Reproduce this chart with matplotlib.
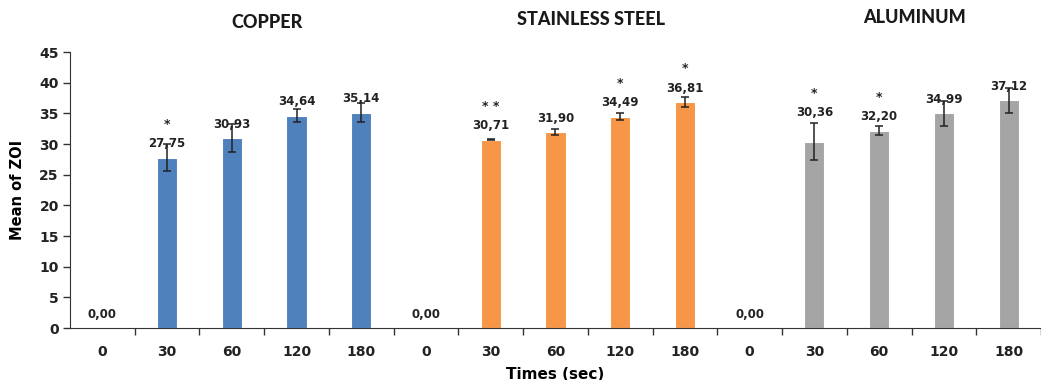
import matplotlib.pyplot as plt
import numpy as np

times = ["0", "30", "60", "120", "180"]
metals = ["COPPER", "STAINLESS STEEL", "ALUMINUM"]
colors = ["#4F81BD", "#F79646", "#A5A5A5"]

copper = [0.00, 27.75, 30.93, 34.64, 35.14]
copper_err = [0, 2.2, 2.3, 1.1, 1.5]
steel = [0.00, 30.71, 31.90, 34.49, 36.81]
steel_err = [0, 0.08, 0.5, 0.6, 0.8]
aluminum = [0.00, 30.36, 32.20, 34.99, 37.12]
aluminum_err = [0, 3.0, 0.8, 2.0, 2.0]

copper_sig = ["", "*", "", "", ""]
steel_sig = ["", "* *", "", "*", "*"]
aluminum_sig = ["", "*", "*", "", ""]

groups = [(copper, copper_err, copper_sig),
          (steel, steel_err, steel_sig),
          (aluminum, aluminum_err, aluminum_sig)]

# label pushed up so it clears the long error bar
lifted = {(2, 1): 11}

fig = plt.figure(figsize=(10.41, 3.8), dpi=100)
ax = fig.add_axes([0.0672, 0.1368, 0.9328, 0.7262])

n = len(times)
for g, (vals, errs, sig) in enumerate(groups):
    x = np.arange(n) + g * n
    ax.bar(x, vals, width=0.31, color=colors[g], edgecolor="#ffffff",
           linewidth=0.8, zorder=2)
    ax.errorbar(x[1:], vals[1:], yerr=errs[1:], fmt="none", ecolor="#222222",
                elinewidth=1.1, capsize=3, capthick=1.1, zorder=3)
    for i, (xi, v, s) in enumerate(zip(x, vals, sig)):
        dy = 10 + lifted.get((g, i), 0)
        ax.annotate("{:.2f}".format(v).replace(".", ","), (xi, v),
                    xytext=(0, dy), textcoords="offset points",
                    ha="center", va="center", fontsize=8.5,
                    fontweight="bold", color="#222222", zorder=4)
        if s:
            ax.annotate(s, (xi, v), xytext=(0, dy + 14),
                        textcoords="offset points", ha="center", va="center",
                        fontsize=9, fontweight="bold", color="#222222")
    ax.text(g * n + 2.55, 49.9 + 0.4 * g, metals[g], ha="center", va="center",
            fontsize=13, fontweight="black", color="#1a1a1a",
            family="Lato")

ax.set_xlim(-0.5, 14.46)
ax.set_ylim(0, 45)
ax.set_yticks(np.arange(0, 46, 5))
ax.set_xticks(np.arange(3 * n))
ax.set_xticklabels(times * 3, fontsize=10, fontweight="bold", color="#222222")
ax.set_xticks(np.arange(3 * n) + 0.5, minor=True)
ax.tick_params(axis="x", which="major", length=0, pad=12)
ax.tick_params(axis="x", which="minor", length=5, width=1, direction="out",
               color="#333333")
ax.tick_params(axis="y", length=5, width=1, direction="out", color="#333333",
               labelsize=10, pad=3)
for lab in ax.get_yticklabels():
    lab.set_fontweight("bold")
    lab.set_color("#222222")

for side in ["top", "right"]:
    ax.spines[side].set_visible(False)
ax.spines["left"].set_color("#333333")
ax.spines["bottom"].set_color("#333333")

ax.set_ylabel("Mean of ZOI", fontsize=10.5, fontweight="bold", labelpad=10)
ax.set_xlabel("Times (sec)", fontsize=11, fontweight="bold", labelpad=6)

fig.savefig("out.png", dpi=100)
